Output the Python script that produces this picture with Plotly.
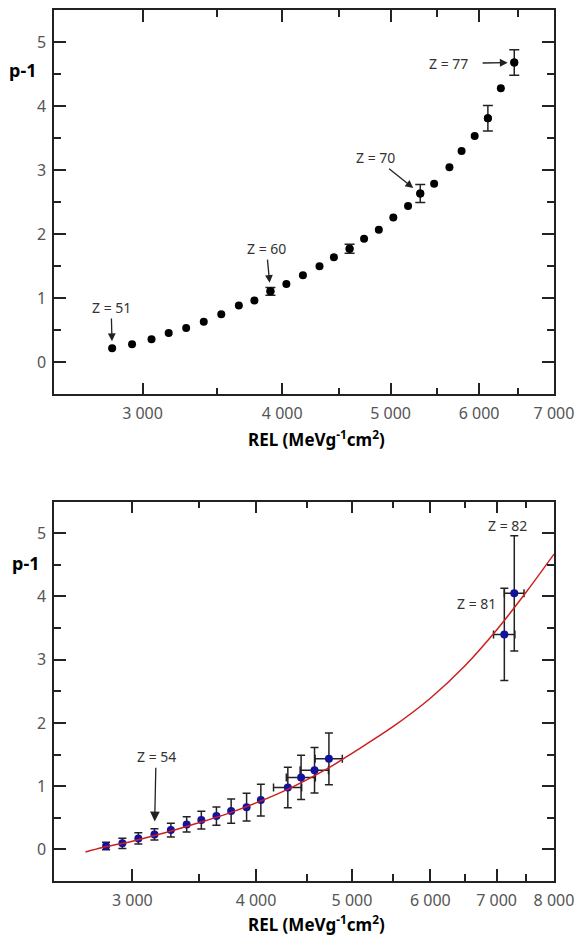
import math
import plotly.graph_objects as go

# ---------------- data ----------------
# top panel: p-1 vs REL (MeV g^-1 cm^2)
top_rel = [2818, 2936, 3056, 3166, 3282, 3403, 3528, 3658, 3777, 3904, 4034, 4174, 4319, 4449,
           4595, 4734, 4880, 5028, 5183, 5315, 5469, 5644, 5787, 5945, 6109, 6274, 6450]
top_p1 = [0.223, 0.285, 0.363, 0.46, 0.538, 0.636, 0.75, 0.89, 0.967, 1.11, 1.225, 1.36, 1.50, 1.64,
          1.774, 1.93, 2.07, 2.26, 2.44, 2.636, 2.79, 3.045, 3.30, 3.535, 3.81, 4.28, 4.68]
top_err = [0, 0, 0, 0, 0, 0, 0, 0, 0, 0.06, 0, 0, 0, 0,
           0.07, 0, 0, 0, 0, 0.14, 0, 0, 0, 0, 0.20, 0, 0.20]

# bottom panel
bot_rel = [2822, 2931, 3042, 3158, 3281, 3404, 3522, 3648, 3775, 3913, 4045, 4307, 4442, 4583, 4739, 7127, 7294]
bot_p1 = [0.053, 0.095, 0.174, 0.237, 0.305, 0.395, 0.463, 0.526, 0.605, 0.668, 0.779, 0.979, 1.137,
          1.253, 1.432, 3.40, 4.049]
bot_yerr = [0.06, 0.08, 0.09, 0.09, 0.11, 0.12, 0.14, 0.145, 0.19, 0.22, 0.25, 0.32, 0.35, 0.36, 0.41, 0.73, 0.91]
bot_xerr = [0, 0, 0, 0, 0, 0, 0, 0, 0, 0, 0, 141, 150, 151, 150, 177, 167]

# fitted curve
fit_rel = [2690, 2800, 3000, 3250, 3500, 3750, 4000, 4250, 4500, 4750, 5000, 5500, 6000, 6500, 7000, 7500, 8000]
fit_p1 = [-0.04, 0.03, 0.13, 0.27, 0.42, 0.57, 0.735, 0.91, 1.10, 1.30, 1.52, 1.94, 2.39, 2.90, 3.47, 4.07, 4.67]

# ticks
top_xticks = [3000, 4000, 5000, 6000, 7000]
top_xminor = [3500, 4500, 5500, 6500]
bot_xticks = [3000, 4000, 5000, 6000, 7000, 8000]
bot_xminor = [3500, 4500, 5500, 6500, 7500]
x_ticktext_top = ["3 000", "4 000", "5 000", "6 000", "7 000"]
x_ticktext_bot = ["3 000", "4 000", "5 000", "6 000", "7 000", "8 000"]
y_ticks = [0, 1, 2, 3, 4, 5]
y_minor = [0.5, 1.5, 2.5, 3.5, 4.5]

# annotations: (label, index of point)
top_labels = [("Z = 51", 0), ("Z = 60", 9), ("Z = 70", 19), ("Z = 77", 26)]
bot_labels = [("Z = 54", 3), ("Z = 81", 15), ("Z = 82", 16)]

# ---------------- figure ----------------
FONT = "Noto Sans"
INK = "#222222"
fig = go.Figure()

fig.add_trace(go.Scatter(x=top_rel, y=top_p1, mode="markers", xaxis="x", yaxis="y",
                         marker=dict(color="black", size=8), showlegend=False))
idx = [i for i, e in enumerate(top_err) if e > 0]
fig.add_trace(go.Scatter(x=[top_rel[i] for i in idx], y=[top_p1[i] for i in idx], mode="markers",
                         xaxis="x", yaxis="y",
                         marker=dict(color="black", size=8),
                         error_y=dict(type="data", array=[top_err[i] for i in idx], color=INK,
                                      thickness=1.5, width=5),
                         showlegend=False))

i0 = [i for i, e in enumerate(bot_xerr) if e == 0]
i1 = [i for i, e in enumerate(bot_xerr) if e > 0]
BLUE = "#12129c"
fig.add_trace(go.Scatter(x=[bot_rel[i] for i in i0], y=[bot_p1[i] for i in i0], mode="markers",
                         xaxis="x2", yaxis="y2",
                         marker=dict(color=BLUE, size=8),
                         error_y=dict(type="data", array=[bot_yerr[i] for i in i0], color=INK,
                                      thickness=1.5, width=4),
                         showlegend=False))
fig.add_trace(go.Scatter(x=[bot_rel[i] for i in i1], y=[bot_p1[i] for i in i1], mode="markers",
                         xaxis="x2", yaxis="y2",
                         marker=dict(color=BLUE, size=8),
                         error_y=dict(type="data", array=[bot_yerr[i] for i in i1], color=INK,
                                      thickness=1.5, width=4),
                         error_x=dict(type="data", array=[bot_xerr[i] for i in i1], color=INK,
                                      thickness=1.5, width=4),
                         showlegend=False))
fig.add_trace(go.Scatter(x=fit_rel, y=fit_p1, mode="lines", xaxis="x2", yaxis="y2",
                         line=dict(color="#cc2020", width=1.5, shape="spline"), showlegend=False))


def xaxis(tv, tt, minor, rng, anchor):
    return dict(type="log", range=rng, anchor=anchor, domain=[0, 1],
                showline=True, linecolor=INK, linewidth=1.5, mirror="allticks",
                ticks="inside", ticklen=12, tickwidth=1.5, tickcolor=INK,
                tickmode="array", tickvals=tv, ticktext=tt, ticklabelstandoff=4,
                tickfont=dict(family=FONT, size=16, color="#555555"),
                minor=dict(tickmode="array", tickvals=minor, ticks="inside", ticklen=7,
                           tickwidth=1.5, tickcolor=INK, showgrid=False),
                showgrid=False, zeroline=False)


def yaxis(dom, anchor):
    return dict(range=[-0.5, 5.5], domain=dom, anchor=anchor,
                showline=True, linecolor=INK, linewidth=1.5, mirror="allticks",
                ticks="inside", ticklen=12, tickwidth=1.5, tickcolor=INK,
                tickmode="array", tickvals=y_ticks, ticklabelstandoff=3,
                tickfont=dict(family=FONT, size=16, color="#555555"),
                minor=dict(tickmode="array", tickvals=y_minor, ticks="inside", ticklen=7,
                           tickwidth=1.5, tickcolor=INK, showgrid=False),
                showgrid=False, zeroline=False)


fig.update_layout(
    width=582, height=935,
    margin=dict(l=54, r=24, t=8, b=54),
    paper_bgcolor="white", plot_bgcolor="white",
    font=dict(family=FONT),
    xaxis=xaxis(top_xticks, x_ticktext_top, top_xminor, [math.log10(2500), math.log10(7000)], "y"),
    yaxis=yaxis([0.5586, 1.0], "x"),
    xaxis2=xaxis(bot_xticks, x_ticktext_bot, bot_xminor, [math.log10(2500), math.log10(8000)], "y2"),
    yaxis2=yaxis([0.0, 0.4356], "x2"),
)

ann = []
title = "<b>REL (MeVg<sup>-1</sup>cm<sup>2</sup>)</b>"
ann.append(dict(text=title, xref="paper", yref="paper", x=0.524, y=0.5082, showarrow=False,
                font=dict(family=FONT, size=17, color="black"), xanchor="center", yanchor="middle"))
ann.append(dict(text=title, xref="paper", yref="paper", x=0.524, y=-0.0485, showarrow=False,
                font=dict(family=FONT, size=17, color="black"), xanchor="center", yanchor="middle"))
ann.append(dict(text="<b>p-1</b>", xref="paper", yref="paper", x=-0.0635, y=0.9309, showarrow=False,
                font=dict(family=FONT, size=18, color="black"), xanchor="center", yanchor="middle"))
ann.append(dict(text="<b>p-1</b>", xref="paper", yref="paper", x=-0.0575, y=0.3654, showarrow=False,
                font=dict(family=FONT, size=18, color="black"), xanchor="center", yanchor="middle"))

LAB = dict(family=FONT, size=14, color="#333333")
# label text centre offset from its point (px, y down) , arrow standoff, box pad
top_geo = [(-1, -40.6, 7, 1), (-4, -42.7, 8.5, 1), (-45, -35.7, 9, 1), (-65.6, 1, 6.6, 14)]
for (lab, i), (ax, ay, so, pad) in zip(top_labels, top_geo):
    ann.append(dict(text=lab, x=math.log10(top_rel[i]), y=top_p1[i], xref="x", yref="y",
                    showarrow=True, ax=ax, ay=ay, standoff=so, borderpad=pad,
                    arrowhead=2, arrowsize=1.2, arrowwidth=1.3, arrowcolor=INK, font=LAB))

bot_geo = [(1.6, -77.7), (-28.3, -31.3), (-6.6, -68)]
for k, ((lab, i), (ax, ay)) in enumerate(zip(bot_labels, bot_geo)):
    x = math.log10(bot_rel[i])
    y = bot_p1[i]
    if k == 0:
        ann.append(dict(text=lab, x=x, y=y, xref="x2", yref="y2", showarrow=True, ax=ax, ay=ay,
                        standoff=13, arrowhead=2, arrowsize=1.5, arrowwidth=1.3, arrowcolor=INK,
                        font=LAB))
    else:
        ann.append(dict(text=lab, x=x, y=y, xref="x2", yref="y2", showarrow=False, font=LAB,
                        xshift=ax, yshift=-ay))

fig.update_layout(annotations=ann)
fig.write_html("out.html")
